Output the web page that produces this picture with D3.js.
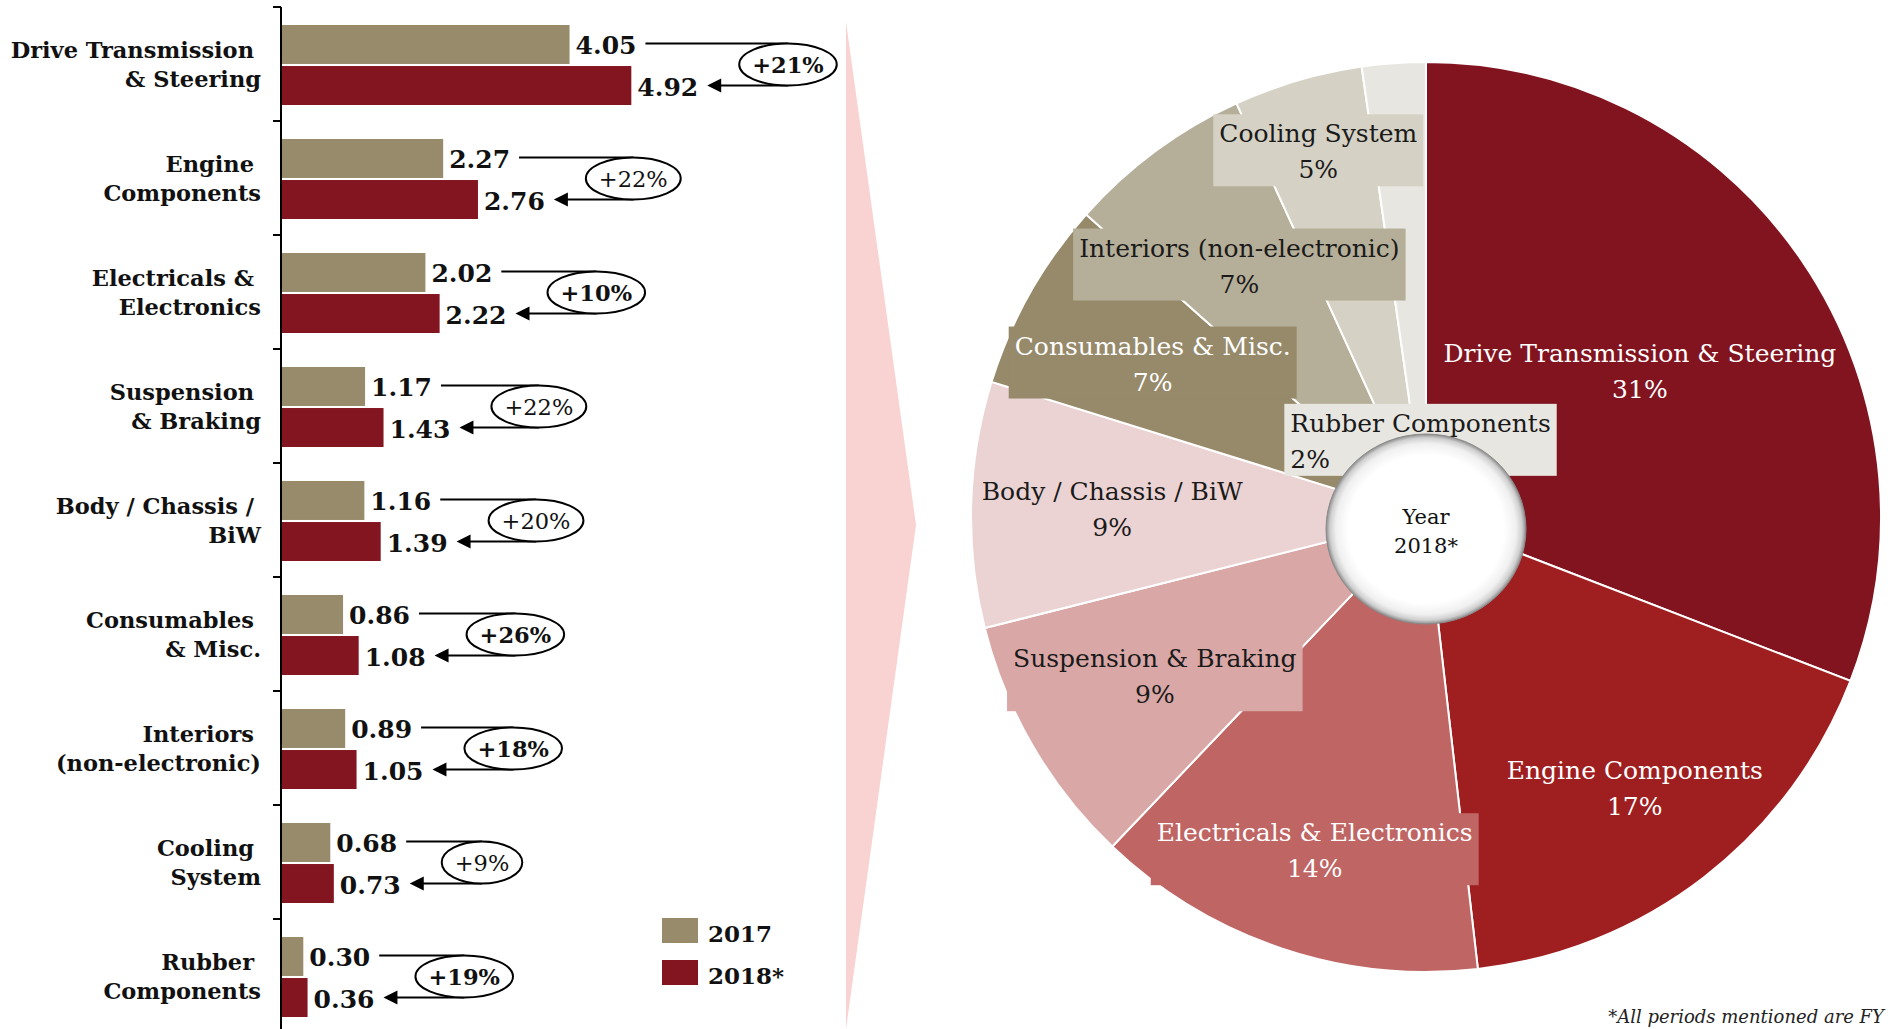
<!DOCTYPE html>
<html><head><meta charset="utf-8">
<script src="https://cdn.jsdelivr.net/npm/d3@7"></script>
<style>
html,body{margin:0;padding:0;background:#fff;overflow:hidden}
svg{display:block}
text{font-family:"DejaVu Serif",Georgia,serif}
</style></head><body>
<svg id="chart" width="1888" height="1029"></svg>
<script>
// ---------- DATA ----------
const categories = ["Drive Transmission & Steering","Engine Components","Electricals & Electronics","Suspension & Braking","Body / Chassis / BiW","Consumables & Misc.","Interiors (non-electronic)","Cooling System","Rubber Components"];
const categoryLines = [["Drive Transmission","& Steering"],["Engine","Components"],["Electricals &","Electronics"],["Suspension","& Braking"],["Body / Chassis /","BiW"],["Consumables","& Misc."],["Interiors","(non-electronic)"],["Cooling","System"],["Rubber","Components"]];
const seriesNames = ["2017","2018*"];
const values2017 = [4.05,2.27,2.02,1.17,1.16,0.86,0.89,0.68,0.30];
const values2018 = [4.92,2.76,2.22,1.43,1.39,1.08,1.05,0.73,0.36];
const growthLabels = ["+21%","+22%","+10%","+22%","+20%","+26%","+18%","+9%","+19%"];
const growthBold = [true,false,true,false,false,true,true,false,true];
const pieNames = ["Drive Transmission & Steering","Engine Components","Electricals & Electronics","Suspension & Braking","Body / Chassis / BiW","Consumables & Misc.","Interiors (non-electronic)","Cooling System","Rubber Components"];
const pieShareLabels = ["31%","17%","14%","9%","9%","7%","7%","5%","2%"];
const centerLabel = ["Year","2018*"];
const footnote = "*All periods mentioned are FY";

// ---------- STYLE / LAYOUT ----------
const seriesColors = ["#978b6c","#831520"];
const pieColors = ["#821420","#9f1f21","#bf6563","#d9a7a6","#ecd3d3","#978a6b","#b5ae98","#d5d1c4","#e8e6e0"];
const pieTextColors = ["#fff","#fff","#fff","#1a1a1a","#1a1a1a","#fff","#1a1a1a","#1a1a1a","#1a1a1a"];
const pieLabelRadius = [0.57,0.75,0.77,0.69,0.69,0.69,0.69,0.84,0.17];
const pieShowBox = [false,false,true,true,false,true,true,true,true];
const pieLeftAlign = [false,false,false,false,false,false,false,false,true];

const svg = d3.select("#chart");

// ---------- BAR CHART ----------
const y = d3.scaleBand().domain(categories).range([7, 1033]);
const ySub = d3.scaleBand().domain(seriesNames).range([18, 98]).paddingInner(0.05);
const x = d3.scaleLinear().domain([0, 5]).range([282, 637]);

// axis
const axisG = svg.append("g");
axisG.append("line").attr("x1", 281).attr("x2", 281).attr("y1", y.range()[0]).attr("y2", 1029)
  .attr("stroke", "#000").attr("stroke-width", 2);
axisG.selectAll("line.tick").data(categories).enter().append("line").attr("class","tick")
  .attr("x1", 273).attr("x2", 281).attr("y1", d => y(d)).attr("y2", d => y(d))
  .attr("stroke", "#000").attr("stroke-width", 2);

// category labels
categories.forEach((c, i) => {
  const g = svg.append("text").attr("text-anchor", "end").attr("font-weight", "bold")
    .attr("font-size", 22.5).attr("fill", "#111");
  g.append("tspan").attr("x", 254).attr("y", y(c) + 51).text(categoryLines[i][0]);
  g.append("tspan").attr("x", 261).attr("y", y(c) + 80).text(categoryLines[i][1]);
});

const seriesValues = [values2017, values2018];
categories.forEach((c, i) => {
  const row = svg.append("g");
  const centers = [], ends = [];
  seriesNames.forEach((s, k) => {
    const v = seriesValues[k][i];
    const yy = y(c) + ySub(s);
    row.append("rect").attr("x", x(0)).attr("y", yy).attr("width", x(v) - x(0))
      .attr("height", ySub.bandwidth()).attr("fill", seriesColors[k]);
    const t = row.append("text").attr("x", x(v) + 6).attr("y", yy + ySub.bandwidth() / 2 + 10)
      .attr("font-weight", "bold").attr("font-size", 25).attr("fill", "#111").text(v.toFixed(2));
    centers.push(yy + ySub.bandwidth() / 2);
    ends.push(x(v) + 6 + t.node().getComputedTextLength());
  });
  // connector
  const pct = row.append("text").attr("font-size", 22.5).attr("text-anchor", "middle")
    .attr("font-weight", growthBold[i] ? "bold" : "normal").attr("fill", "#111").text(growthLabels[i]);
  const pw = pct.node().getComputedTextLength();
  const yTop = centers[0] - 1, yBot = centers[1];
  const lineStart = ends[0] + 9;
  const tip = ends[1] + 9;
  const rx = pw / 2 + 13;
  const ecx = tip + 32 + rx;
  const ecy = (yTop + yBot) / 2, ry = (yBot - yTop) / 2;
  row.insert("path", "text:last-child")
    .attr("d", `M${lineStart},${yTop}H${ecx}M${ecx},${yBot}H${tip + 10}`)
    .attr("stroke", "#000").attr("stroke-width", 2).attr("fill", "none");
  row.insert("polygon", "text:last-child")
    .attr("points", `${tip},${yBot} ${tip + 14},${yBot - 7} ${tip + 14},${yBot + 7}`).attr("fill", "#000");
  row.insert("ellipse", "text:last-child").attr("cx", ecx).attr("cy", ecy).attr("rx", rx).attr("ry", ry)
    .attr("fill", "#fff").attr("stroke", "#000").attr("stroke-width", 2);
  pct.attr("x", ecx).attr("y", ecy + 8);
});

// legend
const legend = svg.append("g");
seriesNames.forEach((s, k) => {
  legend.append("rect").attr("x", 662).attr("y", 918 + k * 42).attr("width", 36).attr("height", 25)
    .attr("fill", seriesColors[k]);
  legend.append("text").attr("x", 708).attr("y", 942 + k * 42).attr("font-weight", "bold")
    .attr("font-size", 23).attr("fill", "#111").text(s);
});

// pink pointer
svg.append("polygon").attr("points", "846,22 916,525 846,1029").attr("fill", "#f8d3d1");

// ---------- PIE ----------
const pcx = 1426, pcy = 517, R = 455;
const pieG = svg.append("g").attr("transform", `translate(${pcx},${pcy})`);
const arcs = d3.pie().sort(null).value(d => d)(values2018);
const arc = d3.arc().innerRadius(0).outerRadius(R);
pieG.selectAll("path").data(arcs).enter().append("path")
  .attr("d", arc).attr("fill", (d, i) => pieColors[i]).attr("stroke", "#fff").attr("stroke-width", 2);

const labelG = pieG.append("g");
arcs.forEach((d, i) => {
  const r = pieLabelRadius[i] * R;
  const [lx, ly] = d3.arc().innerRadius(r).outerRadius(r).centroid(d);
  const box = labelG.append("rect");
  const t = labelG.append("text").attr("font-size", 25).attr("fill", pieTextColors[i]);
  const t1 = t.append("tspan").text(pieNames[i]);
  const t2 = t.append("tspan").text(pieShareLabels[i]);
  const w = Math.max(t1.node().getComputedTextLength(), t2.node().getComputedTextLength());
  const bw = w + 12, bh = 72;
  if (pieLeftAlign[i]) {
    t.attr("text-anchor", "start");
    t1.attr("x", lx - bw / 2 + 6).attr("y", ly - 8);
    t2.attr("x", lx - bw / 2 + 6).attr("y", ly + 28);
  } else {
    t.attr("text-anchor", "middle");
    t1.attr("x", lx).attr("y", ly - 8);
    t2.attr("x", lx).attr("y", ly + 28);
  }
  box.attr("x", lx - bw / 2).attr("y", ly - bh / 2).attr("width", bw).attr("height", bh)
    .attr("fill", pieColors[i]).attr("opacity", pieShowBox[i] ? 1 : 0);
});

// centre button
const defs = svg.append("defs");
const grad = defs.append("radialGradient").attr("id", "btn");
[[0, "#ffffff"], [0.78, "#ffffff"], [0.9, "#f0f0f0"], [0.96, "#cfcfcf"], [1, "#8c8c8c"]]
  .forEach(([o, c]) => grad.append("stop").attr("offset", o).attr("stop-color", c));
pieG.append("ellipse").attr("cx", 0).attr("cy", 12).attr("rx", 100).attr("ry", 95)
  .attr("fill", "url(#btn)").attr("stroke", "#8a8a8a").attr("stroke-width", 1);
const ct = pieG.append("text").attr("text-anchor", "middle").attr("font-size", 21).attr("fill", "#111");
ct.append("tspan").attr("x", 0).attr("y", 7).text(centerLabel[0]);
ct.append("tspan").attr("x", 0).attr("y", 36).text(centerLabel[1]);

// footnote (kept fully inside the frame)
svg.append("text").attr("x", 1884).attr("y", 1023).attr("text-anchor", "end")
  .attr("font-size", 18).attr("font-style", "italic").attr("fill", "#222").text(footnote);
</script>
</body></html>
